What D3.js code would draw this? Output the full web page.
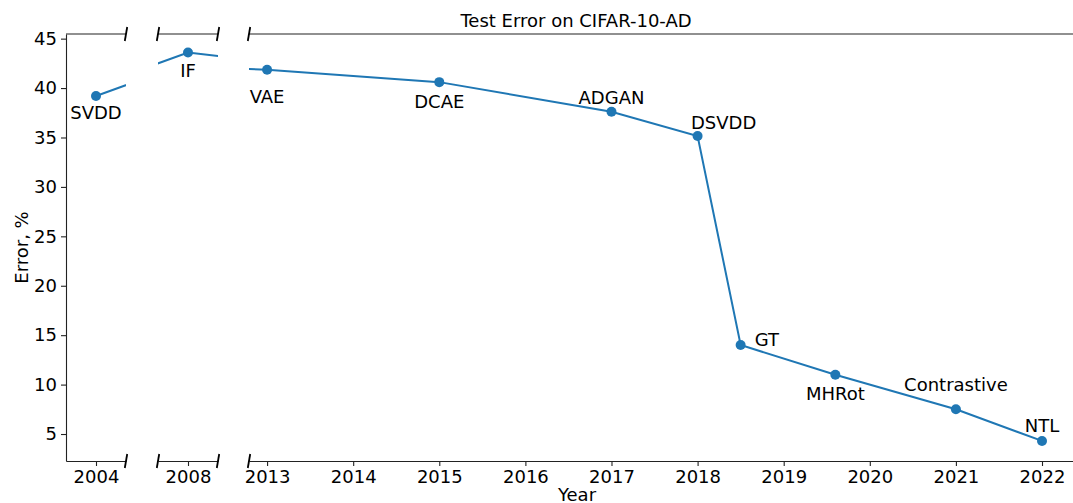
<!DOCTYPE html>
<html>
<head>
<meta charset="utf-8">
<script src="https://cdn.jsdelivr.net/npm/d3@7"></script>
<style>
  body { margin: 0; background: #fff; }
  text { font-family: "DejaVu Sans", sans-serif; font-size: 18px; fill: #000; }
</style>
</head>
<body>
<script>
// data
var methods = ["SVDD", "IF", "VAE", "DCAE", "ADGAN", "DSVDD", "GT", "MHRot", "Contrastive", "NTL"];
var years   = [2004, 2008, 2013, 2015, 2017, 2018, 2018.5, 2019.6, 2021, 2022];
var errors  = [39.2, 43.6, 41.85, 40.6, 37.6, 35.15, 14.0, 11.0, 7.5, 4.3];
var yTicks  = [5, 10, 15, 20, 25, 30, 35, 40, 45];
var panelTicks = [[2004], [2008], [2013, 2014, 2015, 2016, 2017, 2018, 2019, 2020, 2021, 2022]];

// label offsets from their point (px), like matplotlib annotate
var labelOffsets = [[0, 23], [0, 25], [0, 33], [0, 26], [0, -8], [26, -7], [14, 1], [0, 25], [0, -18], [0, -9]];

var width = 1073, height = 503;
var yTop = 34, yBottom = 461;

// three broken x panels
var panels = [
  { x0: 66,  x1: 126,  dom: [2003, 2005] },
  { x0: 158, x1: 218,  dom: [2007, 2009] },
  { x0: 249, x1: 1073, dom: [2012.79, 2022.36] }
];

var points = years.map(function (d, i) { return { year: d, err: errors[i], name: methods[i], off: labelOffsets[i] } });

var svg = d3.select("body").append("svg")
    .attr("width", width)
    .attr("height", height);

var y = d3.scaleLinear().domain([2.27, 45.47]).range([yBottom, yTop]);

panels.forEach(function (p, pi) {
  var x = d3.scaleLinear().domain(p.dom).range([p.x0, p.x1]);
  var g = svg.append("g");

  g.append("clipPath").attr("id", "clip" + pi)
    .append("rect")
    .attr("x", p.x0).attr("y", yTop)
    .attr("width", p.x1 - p.x0).attr("height", yBottom - yTop);

  var line = d3.line()
      .x(function (d) { return x(d.year) })
      .y(function (d) { return y(d.err) });

  var plot = g.append("g").attr("clip-path", "url(#clip" + pi + ")");

  plot.append("path")
      .datum(points)
      .attr("d", line)
      .attr("fill", "none")
      .attr("stroke", "#1f77b4")
      .attr("stroke-width", 2);

  var inside = points.filter(function (d) { return d.year >= p.dom[0] && d.year <= p.dom[1] });

  plot.selectAll("circle")
      .data(inside)
      .enter()
      .append("circle")
      .attr("cx", function (d) { return x(d.year) })
      .attr("cy", function (d) { return y(d.err) })
      .attr("r", 5)
      .attr("fill", "#1f77b4");

  g.selectAll("text.lab")
      .data(inside)
      .enter()
      .append("text")
      .attr("class", "lab")
      .attr("text-anchor", function (d) { return d.name == "GT" ? "start" : "middle" })
      .attr("x", function (d) { return x(d.year) + d.off[0] })
      .attr("y", function (d) { return y(d.err) + d.off[1] })
      .text(function (d) { return d.name });

  // bottom axis
  var xAxis = d3.axisBottom(x).tickValues(panelTicks[pi]).tickFormat(d3.format("d"))
      .tickSizeInner(5).tickSizeOuter(0).tickPadding(4);
  var ax = g.append("g").attr("transform", "translate(0," + yBottom + ")").call(xAxis);
  ax.select(".domain").attr("stroke", "#222").attr("stroke-width", 1.1);
  ax.selectAll(".tick line").attr("stroke", "#222").attr("stroke-width", 1.1);
  ax.selectAll(".tick text").attr("font-size", "18px").attr("font-family", "DejaVu Sans").attr("fill", "#000");

  // top spine
  g.append("line")
      .attr("x1", p.x0).attr("x2", p.x1)
      .attr("y1", yTop).attr("y2", yTop)
      .attr("stroke", "#222").attr("stroke-width", 1.1);

  if (pi == 0) {
    var yAxis = d3.axisLeft(y).tickValues(yTicks).tickSizeInner(5).tickSizeOuter(0).tickPadding(4);
    var ay = g.append("g").attr("transform", "translate(" + p.x0 + ",0)").call(yAxis);
    ay.select(".domain").attr("stroke", "#222").attr("stroke-width", 1.1);
    ay.selectAll(".tick line").attr("stroke", "#222").attr("stroke-width", 1.1);
    ay.selectAll(".tick text").attr("font-size", "18px").attr("font-family", "DejaVu Sans").attr("fill", "#000");
  }

  // break marks
  var edges = [];
  if (pi > 0) edges.push(p.x0);
  if (pi < panels.length - 1) edges.push(p.x1);
  edges.forEach(function (ex) {
    [yTop, yBottom].forEach(function (ey) {
      g.append("line")
          .attr("x1", ex - 1.2).attr("y1", ey + 7)
          .attr("x2", ex + 1.2).attr("y2", ey - 7)
          .attr("stroke", "#000").attr("stroke-width", 1.8);
    });
  });
});

// titles
svg.append("text")
    .attr("x", 576).attr("y", 27)
    .attr("text-anchor", "middle")
    .text("Test Error on CIFAR-10-AD");

svg.append("text")
    .attr("x", 577).attr("y", 501)
    .attr("text-anchor", "middle")
    .text("Year");

svg.append("text")
    .attr("transform", "translate(28,247.5) rotate(-90)")
    .attr("text-anchor", "middle")
    .text("Error, %");
</script>
</body>
</html>
